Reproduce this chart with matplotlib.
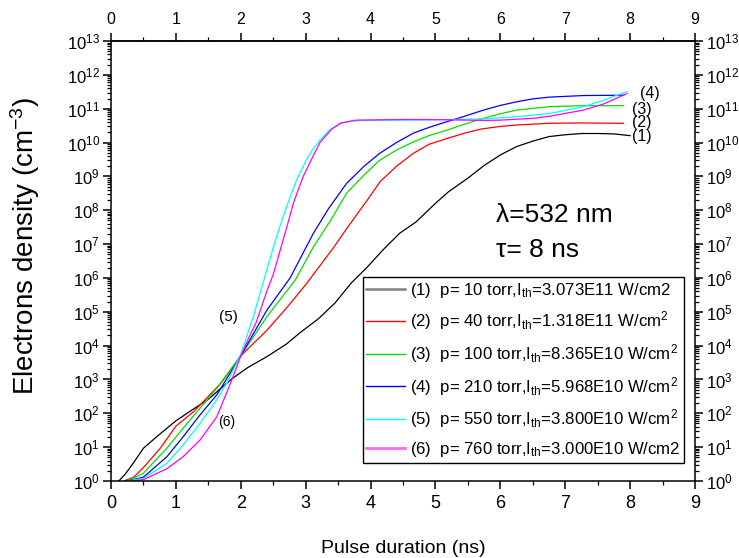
import matplotlib
matplotlib.use("Agg")
import matplotlib.pyplot as plt
import numpy as np
from matplotlib.ticker import LogLocator, MultipleLocator, LogFormatterMathtext, NullFormatter
from matplotlib.lines import Line2D

plt.rcParams['font.family'] = ['Liberation Sans', 'DejaVu Sans']
plt.rcParams['mathtext.fontset'] = 'custom'
plt.rcParams['mathtext.rm'] = 'Liberation Sans'
plt.rcParams['mathtext.it'] = 'Liberation Sans:italic'
plt.rcParams['mathtext.bf'] = 'Liberation Sans:bold'

# ---- data (pulse duration in ns, electron density in cm^-3) ----
t1 = [0.12, 0.22, 0.34, 0.5, 0.7, 0.86, 1.0, 1.25, 1.5, 1.85, 2.1, 2.4, 2.7, 2.9, 3.2, 3.45, 3.7, 3.95,
      4.2, 4.45, 4.7, 5.0, 5.2, 5.5, 5.75, 6.0, 6.25, 6.5, 6.75, 7.0, 7.25, 7.5, 7.75, 8.0]
n1 = [1.0, 1.6, 3.3, 9.3, 2.0e1, 3.6e1, 6.0e1, 1.26e2, 2.6e2, 1.0e3, 2.2e3, 4.7e3, 1.1e4, 2.3e4, 6.3e4,
      1.8e5, 7.0e5, 2.1e6, 7.0e6, 2.1e7, 4.5e7, 1.6e8, 3.5e8, 8.9e8, 2.1e9, 4.3e9, 7.6e9, 1.1e10,
      1.5e10, 1.7e10, 1.85e10, 1.85e10, 1.8e10, 1.6e10]

t2 = [0.2, 0.35, 0.5, 0.76, 1.0, 1.27, 1.47, 1.7, 2.0, 2.4, 2.7, 3.0, 3.43, 3.65, 3.95, 4.15, 4.4,
      4.66, 4.9, 5.17, 5.45, 5.7, 6.0, 6.25, 6.75, 7.25, 7.9]
n2 = [1.0, 1.3, 2.5, 9.3, 4.2e1, 1.1e2, 2.75e2, 8.0e2, 5.0e3, 2.8e4, 1.26e5, 6.3e5, 7.9e6, 3.2e7,
      2.0e8, 7.1e8, 2.0e9, 4.8e9, 8.9e9, 1.3e10, 1.9e10, 2.5e10, 3.0e10, 3.3e10, 3.7e10, 3.8e10, 3.7e10]

t3 = [0.25, 0.5, 0.86, 1.11, 1.37, 1.63, 2.0, 2.4, 2.84, 3.12, 3.4, 3.63, 3.9, 4.14, 4.4, 4.66,
      4.9, 5.17, 5.45, 5.74, 6.0, 6.25, 6.76, 7.28, 7.9]
n3 = [1.0, 1.7, 9.3, 3.6e1, 1.4e2, 5.5e2, 5.0e3, 7.1e4, 8.7e5, 8.3e6, 5.6e7, 3.2e8, 1.1e9, 3.0e9,
      6.0e9, 1.05e10, 1.6e10, 2.3e10, 3.5e10, 5.2e10, 7.1e10, 9.1e10, 1.15e11, 1.23e11, 1.23e11]

t4 = [0.25, 0.5, 0.86, 1.11, 1.37, 1.63, 2.0, 2.4, 2.76, 3.12, 3.35, 3.63, 3.9, 4.14, 4.4, 4.66,
      4.9, 5.17, 5.45, 5.74, 6.0, 6.25, 6.5, 6.76, 7.28, 7.9]
n4 = [1.0, 1.3, 5.2, 2.0e1, 8.9e1, 3.5e2, 5.0e3, 1.1e5, 1.0e6, 2.1e7, 1.1e8, 6.2e8, 2.0e9, 4.8e9,
      1.0e10, 1.9e10, 2.8e10, 4.1e10, 6.0e10, 9.1e10, 1.25e11, 1.6e11, 1.95e11, 2.2e11, 2.45e11, 2.5e11]

t5 = [0.25, 0.5, 0.86, 1.11, 1.37, 1.63, 1.8, 2.0, 2.2, 2.35, 2.5, 2.6, 2.75, 2.86, 3.0, 3.1, 3.22,
      3.35, 3.53, 3.7, 3.9, 4.5, 5.2, 5.75, 6.25, 6.76, 7.28, 7.6, 7.95]
n5 = [1.0, 1.2, 3.3, 1.15e1, 5.0e1, 2.5e2, 8.9e2, 5.6e3, 7.9e4, 7.9e5, 7.9e6, 3.2e7, 2.2e8, 7.9e8,
      2.8e9, 6.0e9, 1.17e10, 2.2e10, 3.7e10, 4.3e10, 4.5e10, 4.6e10, 4.8e10, 5.0e10, 5.8e10, 7.2e10,
      1.15e11, 1.8e11, 3.2e11]

t6 = [0.3, 0.5, 0.86, 1.11, 1.37, 1.63, 1.86, 2.0, 2.14, 2.24, 2.4, 2.5, 2.71, 2.81, 2.96, 3.1, 3.22,
      3.4, 3.55, 3.78, 4.5, 5.2, 5.75, 6.0, 6.5, 6.76, 7.28, 7.6, 7.95]
n6 = [1.0, 1.1, 2.3, 5.2, 1.6e1, 7.9e1, 9.5e2, 5.0e3, 2.0e4, 5.0e4, 4.0e5, 1.26e6, 3.2e7, 1.6e8,
      9.8e8, 3.5e9, 1.0e10, 2.5e10, 3.8e10, 4.6e10, 4.8e10, 4.7e10, 4.5e10, 4.6e10, 5.2e10, 6.0e10,
      9.1e10, 1.4e11, 2.8e11]

series_t = [t1, t2, t3, t4, t5, t6]
series_n = [n1, n2, n3, n4, n5, n6]
colors = ['#000000', '#FF0000', '#00E000', '#0000FF', '#00FFFF', '#FF00FF']
legend_labels = [
    r'(1)  p= 10 torr,I$_{\rm th}$=3.073E11 W/cm2',
    r'(2)  p= 40 torr,I$_{\rm th}$=1.318E11 W/cm$^{2}$',
    r'(3)  p= 100 torr,I$_{\rm th}$=8.365E10 W/cm$^{2}$',
    r'(4)  p= 210 torr,I$_{\rm th}$=5.968E10 W/cm$^{2}$',
    r'(5)  p= 550 torr,I$_{\rm th}$=3.800E10 W/cm$^{2}$',
    r'(6)  p= 760 torr,I$_{\rm th}$=3.000E10 W/cm2',
]
legend_colors = ['#808080', '#FF0000', '#00E000', '#0000FF', '#00FFFF', '#FF66FF']
legend_widths = [1.8, 1.0, 1.0, 1.0, 1.0, 2.0]

end_labels = ['(1)', '(2)', '(3)', '(4)']
end_t = [8.18, 8.18, 8.18, 8.3]
end_n = [1.5e10, 3.8e10, 9.5e10, 2.8e11]

fig = plt.figure(figsize=(7.39, 5.58), dpi=100)
ax = fig.add_axes([0.1502, 0.138, 0.7903, 0.7885])

for t, n, c in zip(series_t, series_n, colors):
    ax.plot(t, n, color=c, lw=0.9)

ax.set_yscale('log')
ax.set_xlim(0, 9)
ax.set_ylim(1, 1e13)

ax.xaxis.set_major_locator(MultipleLocator(1))
ax.xaxis.set_minor_locator(MultipleLocator(0.5))
ax.yaxis.set_major_locator(LogLocator(base=10, numticks=20))
ax.yaxis.set_minor_locator(LogLocator(base=10, subs=np.arange(2, 10), numticks=20))
ax.yaxis.set_major_formatter(LogFormatterMathtext())
ax.yaxis.set_minor_formatter(NullFormatter())

ax.tick_params(axis='both', which='major', direction='out', length=6, width=1.1)
ax.tick_params(axis='both', which='minor', direction='out', length=3, width=0.9)
ax.tick_params(axis='y', which='both', left=True, right=True, labelleft=True, labelright=True,
               labelsize=12, pad=2)
ax.tick_params(axis='x', which='both', bottom=True, top=False, labelsize=13, pad=4)

secx = ax.secondary_xaxis('top')
secx.xaxis.set_major_locator(MultipleLocator(1))
secx.xaxis.set_minor_locator(MultipleLocator(0.5))
secx.tick_params(axis='x', which='major', direction='out', length=6, width=1.1, labelsize=11.5, pad=4)
secx.tick_params(axis='x', which='minor', direction='out', length=3, width=0.9)
for s in secx.spines.values():
    s.set_linewidth(1.1)

for s in ax.spines.values():
    s.set_linewidth(1.1)

ax.set_xlabel('Pulse duration (ns)', fontsize=14, labelpad=20)
ax.set_ylabel('Electrons density (cm$^{-3}$)', fontsize=20)
ax.yaxis.set_label_coords(-0.118, 0.535)

handles = [Line2D([], [], color=c, lw=w) for c, w in zip(legend_colors, legend_widths)]
leg = ax.legend(handles, legend_labels, loc='lower left', bbox_to_anchor=(0.431, 0.042),
                fontsize=12.1, frameon=True, fancybox=False, framealpha=1, edgecolor='black',
                handlelength=2.3, handletextpad=0.3, borderpad=0.2, labelspacing=0.58,
                borderaxespad=0)
leg.get_frame().set_linewidth(1.0)

ax.text(1.81, 10**4.85, '(5)', fontsize=11, ha='center', va='center')
ax.text(1.78, 10**1.75, '(6)', fontsize=10, ha='center', va='center')
for lab, tx, ny in zip(end_labels, end_t, end_n):
    ax.text(tx, ny, lab, fontsize=11.5, ha='center', va='center')

ax.text(5.94, 10**7.86, 'λ=532 nm', fontsize=19, ha='left', va='center')
ax.text(5.94, 10**6.82, 'τ= 8 ns', fontsize=19, ha='left', va='center')

fig.savefig('out.png', dpi=100)
